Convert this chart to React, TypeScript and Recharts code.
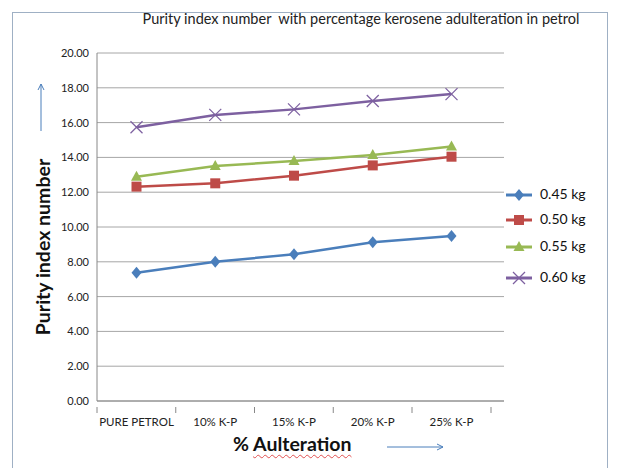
import { LineChart, Line, XAxis, YAxis, CartesianGrid, Legend } from 'recharts';

const categories = ['PURE PETROL', '10% K-P', '15% K-P', '20% K-P', '25% K-P'];
const kg045 = [7.37, 8.0, 8.43, 9.12, 9.48];
const kg050 = [12.32, 12.51, 12.95, 13.54, 14.04];
const kg055 = [12.89, 13.5, 13.79, 14.14, 14.62];
const kg060 = [15.73, 16.44, 16.76, 17.24, 17.64];
const yTicks = [0, 2, 4, 6, 8, 10, 12, 14, 16, 18, 20];

const data = categories.map((c, i) => ({
  name: c,
  a: kg045[i],
  b: kg050[i],
  c: kg055[i],
  d: kg060[i],
}));

const series = [
  { key: 'a', name: '0.45 kg', color: '#4a7ebb', shape: 'diamond' },
  { key: 'b', name: '0.50 kg', color: '#be4b48', shape: 'square' },
  { key: 'c', name: '0.55 kg', color: '#98b954', shape: 'triangle' },
  { key: 'd', name: '0.60 kg', color: '#7d60a0', shape: 'cross' },
];

const narrow = "'Liberation Sans Narrow', 'Arial Narrow', Lato, sans-serif";

function Marker({ cx, cy, color, shape }: any) {
  if (cx == null || cy == null) return null;
  if (shape === 'diamond')
    return <path d={`M${cx},${cy - 6}L${cx + 5},${cy}L${cx},${cy + 6}L${cx - 5},${cy}Z`} fill={color} />;
  if (shape === 'square') return <rect x={cx - 5} y={cy - 5} width={10} height={10} fill={color} />;
  if (shape === 'triangle')
    return <path d={`M${cx},${cy - 6}L${cx + 5.5},${cy + 4}L${cx - 5.5},${cy + 4}Z`} fill={color} />;
  return (
    <g stroke={color} strokeWidth={1.2}>
      <line x1={cx - 6} y1={cy - 6} x2={cx + 6} y2={cy + 6} />
      <line x1={cx - 6} y1={cy + 6} x2={cx + 6} y2={cy - 6} />
    </g>
  );
}

function XTick({ x, y, payload, index }: any) {
  const half = 39.5;
  return (
    <g>
      <line x1={x - half} y1={y - 2} x2={x - half} y2={y + 4} stroke="#888" />
      {index === categories.length - 1 && <line x1={x + half} y1={y - 2} x2={x + half} y2={y + 4} stroke="#888" />}
      <text x={x} y={y + 17} textAnchor="middle" fontSize={11.5} fill="#222" fontFamily={narrow}>
        {payload.value}
      </text>
    </g>
  );
}

function LegendBox() {
  const tops = [195, 220, 247, 278];
  return (
    <svg width={120} height={120} style={{ position: 'absolute', left: 500, top: 180 }}>
      {series.map((s, i) => {
        const y = tops[i] - 180;
        return (
          <g key={s.key}>
            <line x1={6} y1={y} x2={32} y2={y} stroke={s.color} strokeWidth={3} />
            <Marker cx={19} cy={y} color={s.color} shape={s.shape} />
            <text x={40} y={y + 4} fontSize={14} fill="#111" fontFamily="Lato, sans-serif">
              {s.name}
            </text>
          </g>
        );
      })}
    </svg>
  );
}

export default function App() {
  return (
    <div style={{ position: 'absolute', left: 0, top: 0, width: 622, height: 468, background: '#fff', fontFamily: 'Lato, sans-serif' }}>
      <div style={{ position: 'absolute', left: 12, top: 12, width: 594, height: 470, border: '1px solid #9fb0c4' }} />
      <LineChart width={622} height={468} data={data} margin={{ top: 53, right: 118, left: 42, bottom: 37 }}>
        <CartesianGrid vertical={false} stroke="#a6a6a6" strokeWidth={1} />
        <XAxis
          dataKey="name"
          height={30}
          padding={{ left: 39.5, right: 52.5 }}
          axisLine={{ stroke: '#888' }}
          tickLine={false}
          tick={<XTick />}
          interval={0}
        />
        <YAxis
          width={55}
          domain={[0, 20]}
          ticks={yTicks}
          tickFormatter={(v: number) => v.toFixed(2)}
          axisLine={{ stroke: '#888' }}
          tickLine={false}
          tick={{ fontSize: 11, fill: '#222', fontFamily: narrow }}
        />
        {series.map((s) => (
          <Line
            key={s.key}
            dataKey={s.key}
            name={s.name}
            stroke={s.color}
            strokeWidth={2.5}
            isAnimationActive={false}
            dot={(p: any) => <Marker key={`${s.key}-${p.index}`} cx={p.cx} cy={p.cy} color={s.color} shape={s.shape} />}
            activeDot={false}
          />
        ))}
        <Legend content={() => null} />
      </LineChart>
      <LegendBox />
      <div style={{ position: 'absolute', left: 0, width: 722, top: 10, textAlign: 'center', fontSize: 14.5, color: '#222' }}>
        Purity index number&nbsp; with percentage kerosene adulteration in petrol
      </div>
      <div
        style={{
          position: 'absolute',
          left: 42,
          top: 247,
          transform: 'translate(-50%, -50%) rotate(-90deg)',
          whiteSpace: 'nowrap',
          fontSize: 19.5,
          fontWeight: 'bold',
          color: '#111',
        }}
      >
        Purity index number
      </div>
      <div style={{ position: 'absolute', left: 233, top: 432, fontSize: 19.5, fontWeight: 'bold', color: '#111' }}>
        %{' '}
        <span style={{ textDecoration: 'underline wavy #e05050', textDecorationThickness: 1, textUnderlineOffset: 3 }}>
          Aulteration
        </span>
      </div>
      <svg width={622} height={468} style={{ position: 'absolute', left: 0, top: 0, pointerEvents: 'none' }}>
        <line x1={41} y1={131} x2={41} y2={84} stroke="#4a7ebb" strokeWidth={1} />
        <path d="M38,90L41,84L44,90" fill="none" stroke="#4a7ebb" />
        <line x1={387} y1={447} x2={443} y2={447} stroke="#4a7ebb" strokeWidth={1} />
        <path d="M437,444L443,447L437,450" fill="none" stroke="#4a7ebb" />
      </svg>
    </div>
  );
}
